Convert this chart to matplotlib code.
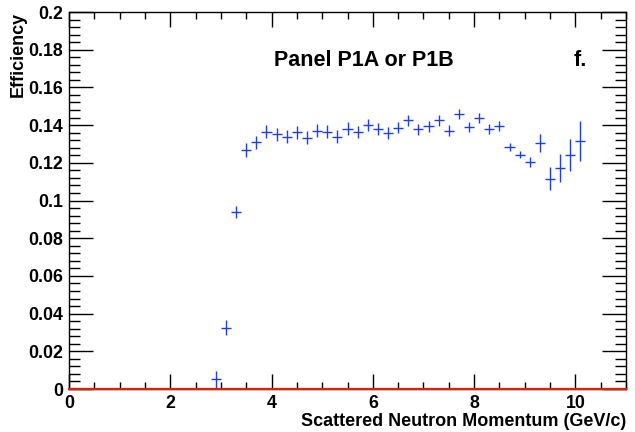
import matplotlib
matplotlib.use("Agg")
import matplotlib.pyplot as plt
from matplotlib.ticker import MultipleLocator

# bin centres (GeV/c) and efficiency
momentum = [2.9, 3.1, 3.3, 3.5, 3.7, 3.9, 4.1, 4.3, 4.5, 4.7, 4.9, 5.1, 5.3,
            5.5, 5.7, 5.9, 6.1, 6.3, 6.5, 6.7, 6.9, 7.1, 7.3, 7.5, 7.7, 7.9,
            8.1, 8.3, 8.5, 8.7, 8.9, 9.1, 9.3, 9.5, 9.7, 9.9, 10.1]
efficiency = [0.0051, 0.0325, 0.0937, 0.1268, 0.1309, 0.1365, 0.1351, 0.1339,
              0.1362, 0.1333, 0.1370, 0.1365, 0.1339, 0.1381, 0.1362, 0.1399,
              0.1381, 0.1360, 0.1386, 0.1425, 0.1378, 0.1394, 0.1425, 0.1370,
              0.1461, 0.1392, 0.1439, 0.1381, 0.1394, 0.1285, 0.1243, 0.1206,
              0.1307, 0.1116, 0.1174, 0.1243, 0.1317]
eff_err = [0.0043, 0.0040, 0.0032, 0.0035, 0.0035, 0.0035, 0.0035, 0.0035,
           0.0035, 0.0035, 0.0035, 0.0035, 0.0035, 0.0033, 0.0033, 0.0032,
           0.0032, 0.0032, 0.0030, 0.0030, 0.0030, 0.0030, 0.0028, 0.0028,
           0.0027, 0.0027, 0.0027, 0.0026, 0.0026, 0.0022, 0.0020, 0.0027,
           0.0047, 0.0060, 0.0074, 0.0084, 0.0106]
bin_half = 0.1

plt.rcParams['font.family'] = ['Liberation Sans', 'DejaVu Sans']
plt.rcParams['font.weight'] = 'bold'

fig = plt.figure(figsize=(6.35, 4.32), dpi=100)
ax = fig.add_axes([0.1087, 0.0995, 0.8771, 0.8727])

ax.errorbar(momentum, efficiency, xerr=bin_half, yerr=eff_err, fmt='none',
            ecolor='#1a3cff', elinewidth=1.0, capsize=0)
ax.axhline(0, color='#e02000', lw=1.6, zorder=5, clip_on=False)

ax.set_xlim(0, 11)
ax.set_ylim(0, 0.2)
ax.xaxis.set_major_locator(MultipleLocator(2))
ax.xaxis.set_minor_locator(MultipleLocator(0.5))
ax.yaxis.set_major_locator(MultipleLocator(0.02))
ax.yaxis.set_minor_locator(MultipleLocator(0.004))
ax.yaxis.set_major_formatter(plt.FuncFormatter(lambda v, p: '0' if v == 0 else ('%.2f' % v).rstrip('0')))

ax.tick_params(which='both', direction='in', top=True, right=True,
               labelsize=12.8, width=1)
ax.tick_params(axis='x', which='major', length=11, pad=4)
ax.tick_params(axis='x', which='minor', length=5)
ax.tick_params(axis='y', which='major', length=17, pad=4)
ax.tick_params(axis='y', which='minor', length=8)
for s in ax.spines.values():
    s.set_linewidth(1)

ax.set_xlabel('Scattered Neutron Momentum (GeV/c)', fontsize=13,
              fontweight='bold', loc='right', labelpad=1)
ax.set_ylabel('Efficiency', fontsize=13, fontweight='bold', loc='top')
ax.yaxis.set_label_coords(-0.076, 1.0)

ax.text(5.82, 0.1745, 'Panel P1A or P1B', fontsize=15.5, fontweight='bold',
        ha='center', va='center')
ax.text(10.1, 0.1745, 'f.', fontsize=15.5, fontweight='bold',
        ha='center', va='center')

fig.savefig('out.png', dpi=100)
